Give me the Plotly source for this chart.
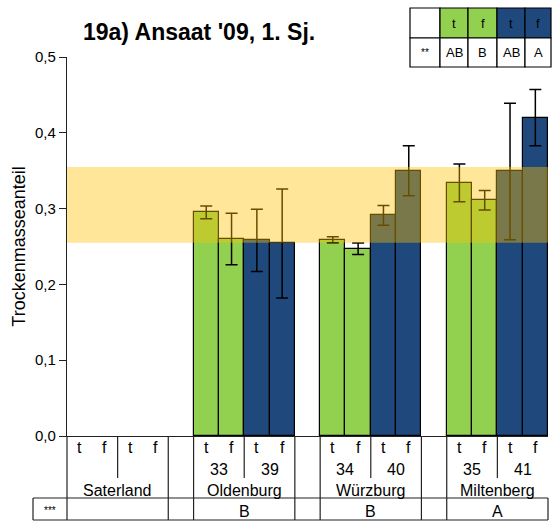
import plotly.graph_objects as go

# --- data -------------------------------------------------------------
locations = ["Saterland", "Oldenburg", "Würzburg", "Miltenberg"]
variety_ids = [["", ""], ["33", "39"], ["34", "40"], ["35", "41"]]
site_letters = ["", "B", "B", "A"]

series_names = ["grün t", "grün f", "blau t", "blau f"]
series_tf = ["t", "f", "t", "f"]
series_letters = ["AB", "B", "AB", "A"]

green_t = [None, 0.295, 0.259, 0.334]
green_f = [None, 0.260, 0.247, 0.311]
blue_t = [None, 0.258, 0.291, 0.349]
blue_f = [None, 0.254, 0.350, 0.420]

green_t_err = [None, 0.0085, 0.004, 0.025]
green_f_err = [None, 0.034, 0.0075, 0.013]
blue_t_err = [None, 0.041, 0.013, 0.090]
blue_f_err = [None, 0.072, 0.033, 0.037]

band_low, band_high = 0.255, 0.355

y_ticks = [0.0, 0.1, 0.2, 0.3, 0.4, 0.5]
y_tick_text = ["0,0", "0,1", "0,2", "0,3", "0,4", "0,5"]

# --- styling ----------------------------------------------------------
GREEN = "#92D050"
BLUE = "#1F497D"
FONT = "Liberation Sans, Arial, sans-serif"

W, H = 552, 523
M_L, M_R, M_T, M_B = 67, 4, 57, 87
PLOT_W = W - M_L - M_R
PLOT_H = H - M_T - M_B

SLOTS_PER_SITE = 5          # four bars plus one empty slot
N_SLOTS = len(locations) * SLOTS_PER_SITE - 1
X_RANGE = [-0.5, N_SLOTS - 0.5]


def slot_x(site, k):
    return site * SLOTS_PER_SITE + k


def paper_x_edge(b):
    """paper x of the left edge of slot b"""
    return (b - 0.5 - X_RANGE[0]) / (X_RANGE[1] - X_RANGE[0])


def paper_x_px(px):
    return (px - M_L) / PLOT_W


def paper_y_px(py):
    return (H - M_B - py) / PLOT_H


def label(x, y, text, size, xref="paper", bold=False):
    return dict(x=x, y=y, xref=xref, yref="paper",
                xanchor="center", yanchor="middle",
                text=f"<b>{text}</b>" if bold else text, showarrow=False,
                font=dict(size=size, color="#000000", family=FONT))


fig = go.Figure()

values = [green_t, green_f, blue_t, blue_f]
errors = [green_t_err, green_f_err, blue_t_err, blue_f_err]
colors = [GREEN, GREEN, BLUE, BLUE]

for k in range(4):
    xs, ys, es = [], [], []
    for s in range(len(locations)):
        if values[k][s] is None:
            continue
        xs.append(slot_x(s, k))
        ys.append(values[k][s])
        es.append(errors[k][s])
    fig.add_trace(go.Bar(
        x=xs, y=ys, width=1.0, name=series_names[k],
        marker=dict(color=colors[k], line=dict(color="#000000", width=1.2)),
        error_y=dict(type="data", array=es, visible=True,
                     color="#000000", thickness=1.5, width=6),
        showlegend=False,
    ))

shapes = []
annotations = []

# translucent reference band drawn above the bars
shapes.append(dict(type="rect", xref="paper", yref="y", layer="above",
                   x0=0, x1=1, y0=band_low, y1=band_high,
                   fillcolor="rgba(255,192,0,0.40)", line=dict(width=0)))

LINE = dict(color="#222222", width=1.2)

# table below the x axis
y_axis = 0
y_mid_line = paper_y_px(478)
y_row_top = paper_y_px(498)
y_row_bot = paper_y_px(520)

# left axis line continued down to the table bottom
shapes.append(dict(type="line", xref="paper", yref="paper",
                   x0=0, x1=0, y0=y_axis, y1=y_row_bot, line=LINE))
# bottom row box
for yy in (y_row_top, y_row_bot):
    shapes.append(dict(type="line", xref="paper", yref="paper",
                       x0=paper_x_px(33), x1=paper_x_edge(N_SLOTS),
                       y0=yy, y1=yy, line=LINE))
for xx in (paper_x_px(33), paper_x_edge(N_SLOTS)):
    shapes.append(dict(type="line", xref="paper", yref="paper",
                       x0=xx, x1=xx, y0=y_row_top, y1=y_row_bot, line=LINE))

for s, name in enumerate(locations):
    start = s * SLOTS_PER_SITE
    # divider between the two varieties of a site
    shapes.append(dict(type="line", xref="paper", yref="paper",
                       x0=paper_x_edge(start + 2), x1=paper_x_edge(start + 2),
                       y0=y_axis, y1=y_mid_line, line=LINE))
    # site borders
    if s < len(locations) - 1:
        for b in (start + 4, start + 5):
            shapes.append(dict(type="line", xref="paper", yref="paper",
                               x0=paper_x_edge(b), x1=paper_x_edge(b),
                               y0=y_axis, y1=y_row_bot, line=LINE))
    for k in range(4):
        annotations.append(label(slot_x(s, k), paper_y_px(447), series_tf[k], 16, xref="x"))
    for j in range(2):
        if variety_ids[s][j]:
            annotations.append(label(slot_x(s, 2 * j) + 0.5, paper_y_px(469),
                                     variety_ids[s][j], 16, xref="x"))
    annotations.append(label(start + 1.5, paper_y_px(490), name, 16, xref="x"))
    if site_letters[s]:
        annotations.append(label(start + 1.5, paper_y_px(511), site_letters[s], 16, xref="x"))

annotations.append(label(paper_x_px(50), paper_y_px(510), "***", 10))

# significance table, top right
col_px = [410, 440, 468, 497, 525, 551]
row_px = [8, 38, 67]
cell_fill = ["#FFFFFF", GREEN, GREEN, BLUE, BLUE]
top_text = [""] + series_tf
bottom_text = ["**"] + series_letters
for c in range(5):
    x0, x1 = paper_x_px(col_px[c]), paper_x_px(col_px[c + 1])
    for r, texts in enumerate([top_text, bottom_text]):
        y0, y1 = paper_y_px(row_px[r + 1]), paper_y_px(row_px[r])
        shapes.append(dict(type="rect", xref="paper", yref="paper",
                           x0=x0, x1=x1, y0=y0, y1=y1,
                           fillcolor=cell_fill[c] if r == 0 else "#FFFFFF",
                           line=dict(color="#000000", width=1.2)))
        if texts[c]:
            annotations.append(label((x0 + x1) / 2, (y0 + y1) / 2, texts[c],
                                     10 if texts[c] == "**" else 13))

# title
annotations.append(label(paper_x_px(199), paper_y_px(32),
                         "19a) Ansaat '09, 1. Sj.", 23, bold=True))

fig.update_layout(
    width=W, height=H,
    margin=dict(l=M_L, r=M_R, t=M_T, b=M_B),
    paper_bgcolor="#FFFFFF", plot_bgcolor="#FFFFFF",
    barmode="overlay", bargap=0,
    shapes=shapes, annotations=annotations,
    font=dict(family=FONT, color="#000000"),
    xaxis=dict(range=X_RANGE, showticklabels=False, ticks="", showgrid=False,
               zeroline=False, showline=True, linecolor="#222222", linewidth=1.2),
    yaxis=dict(range=[0, 0.5], tickvals=y_ticks, ticktext=y_tick_text,
               ticks="outside", ticklen=7, tickcolor="#222222", tickwidth=1.2,
               showgrid=False, zeroline=False, showline=True,
               linecolor="#222222", linewidth=1.2,
               tickfont=dict(size=15, family=FONT, color="#000000"),
               title=dict(text="Trockenmasseanteil", standoff=4,
                          font=dict(size=18, family=FONT, color="#000000"))),
)

fig.write_html("out.html")
